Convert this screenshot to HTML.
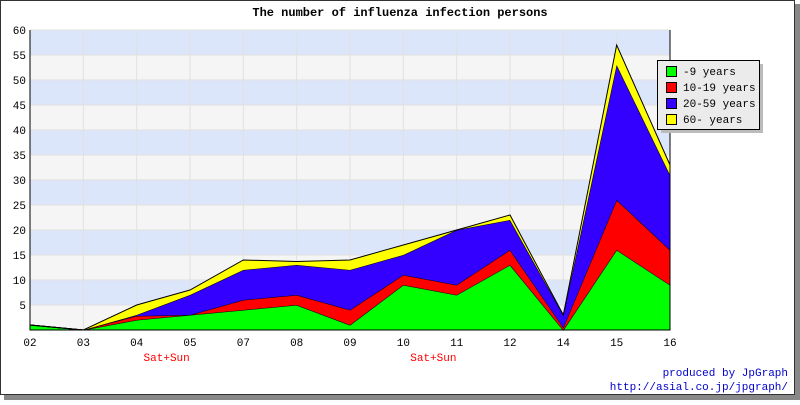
<!DOCTYPE html>
<html><head><meta charset="utf-8"><style>
body{margin:0;background:#fff}
svg text{font-family:"Liberation Mono",monospace;font-size:11px}
</style></head><body>
<svg id="c" width="800" height="400" xmlns="http://www.w3.org/2000/svg">
<rect x="4" y="4" width="796" height="396" fill="#888"/>
<rect x="0.5" y="0.5" width="794" height="394" fill="#fff" stroke="#333"/>
<text x="400" y="16" text-anchor="middle" font-weight="bold" style="font-size:12px">The number of influenza infection persons</text>
<g id="bands"></g><g id="grid"></g><g id="areas"></g><g id="axes"></g>
<g id="legend"></g>
<text x="788" y="376" text-anchor="end" fill="#0000cc">produced by JpGraph</text>
<text x="788" y="390" text-anchor="end" fill="#0000cc">http://asial.co.jp/jpgraph/</text>
</svg>
<script>
const categories=["02","03","04","05","07","08","09","10","11","12","14","15","16"];
const notes=["","","Sat+Sun","","","","","Sat+Sun","","","","",""];
const s1=[1,0,2,3,4,5,1,9,7,13,0,16,9];
const s2=[0,0,0.8,0,2,2,3,2,2,3,0.5,10,7];
const s3=[0,0,0.2,4,6,6,8,4,11,6,2.5,27,15];
const s4=[0,0,2,1,2,0.7,2,2,0,1,0,4,2];
const seriesNames=["-9 years","10-19 years","20-59 years","60- years"];
const colors=["#00ff00","#ff0000","#3300ff","#ffff00"];
const yTicks=[5,10,15,20,25,30,35,40,45,50,55,60];
const NS="http://www.w3.org/2000/svg";
const L=30,R=670,T=30,B=330,YMAX=60;
const X=i=>L+i*(R-L)/(categories.length-1);
const Y=v=>B-v*(B-T)/YMAX;
function mk(t,a,p){const e=document.createElementNS(NS,t);for(const k in a)e.setAttribute(k,a[k]);p.appendChild(e);return e;}
const bands=document.getElementById('bands'),grid=document.getElementById('grid'),areas=document.getElementById('areas'),axes=document.getElementById('axes');
for(let k=0;k<YMAX/5;k++){const r=mk('rect',{x:L,y:Y((k+1)*5),width:R-L,height:Y(k*5)-Y((k+1)*5),fill:k%2?"#dce6fa":"#f5f5f5"},bands);

}
yTicks.forEach(v=>{const l=mk('line',{x1:L,x2:R,y1:Y(v),y2:Y(v),stroke:"#e0e0e0"},grid);


const t=mk('text',{x:L-4,y:Y(v)+4,"text-anchor":"end"},axes);t.textContent=v;

});
categories.forEach((c,i)=>{const l=mk('line',{x1:X(i),x2:X(i),y1:T,y2:B,stroke:"#e0e0e0"},grid);


const t=mk('text',{x:X(i),y:B+16,"text-anchor":"middle"},axes);t.textContent=c;


if(notes[i]){const n=mk('text',{x:X(i)+30,y:B+31,"text-anchor":"middle",fill:"#ff0000"},axes);n.textContent=notes[i];

}});
const series=[s1,s2,s3,s4];let base=categories.map(()=>0);
series.forEach((s,si)=>{const top=s.map((v,i)=>base[i]+v);
let d="M"+categories.map((c,i)=>X(i)+","+Y(top[i])).join(" L");
for(let i=categories.length-1;i>=0;i--)d+=" L"+X(i)+","+Y(base[i]);d+=" Z";
const p=mk('path',{d:d,fill:colors[si],stroke:"none"},areas);


const ln=mk('polyline',{points:categories.map((c,i)=>X(i)+","+Y(top[i])).join(" "),fill:"none",stroke:"#000","stroke-width":1},areas);


base=top;});
const ax=mk('path',{d:`M${L},${T} V${B} H${R} V${T}`,fill:"none",stroke:"#000"},axes);


const lg=document.getElementById('legend');
mk('rect',{x:661,y:64,width:102,height:69,fill:"#bbb"},lg);
mk('rect',{x:657.5,y:60.5,width:102,height:69,fill:"#ebebeb",stroke:"#000"},lg);
seriesNames.forEach((n,i)=>{const y=66+i*16;
const r=mk('rect',{x:666.5,y:y+0.5,width:10,height:10,fill:colors[i],stroke:"#000"},lg);


const t=mk('text',{x:683,y:y+9},lg);t.textContent=n;

});
</script>
</body></html>
